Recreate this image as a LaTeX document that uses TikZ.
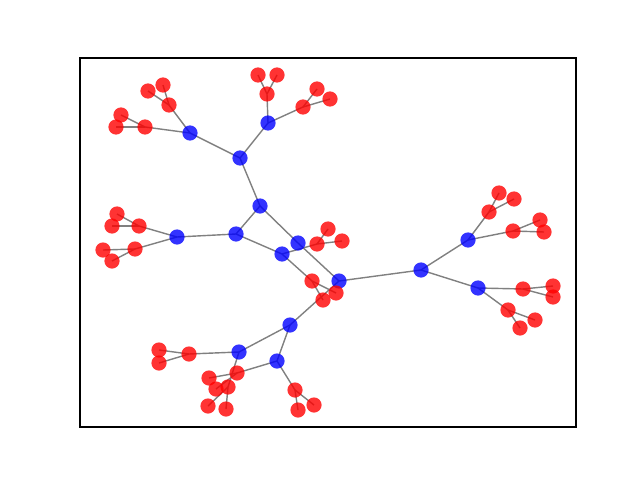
\documentclass[tikz,border=0pt]{standalone}
\pgfdeclarelayer{background}
\pgfsetlayers{background,main}
\definecolor{nred}{rgb}{1,0,0}
\definecolor{nblue}{rgb}{0,0,1}
\tikzset{
  bn/.style={circle,inner sep=0pt,minimum size=0.38cm,fill=nblue,fill opacity=0.8,draw=none},
  rn/.style={circle,inner sep=0pt,minimum size=0.38cm,fill=nred,fill opacity=0.8,draw=none},
  edg/.style={draw=black!50,line width=1pt},
  frame/.style={draw=black,line width=0.8pt}
}
\begin{document}
\begin{tikzpicture}[x=0.025cm,y=-0.025cm]
\useasboundingbox (0,0) rectangle (640,480);
\draw[frame] (80,58) rectangle (576,427);
% blue inner nodes
\node[bn] (n) at (298,243) {};
\node[bn] (n0) at (260,206) {};
\node[bn] (n00) at (240,158) {};
\node[bn] (n000) at (190,133) {};
\node[bn] (n001) at (268,123) {};
\node[bn] (n01) at (236,234) {};
\node[bn] (n010) at (177,237) {};
\node[bn] (n011) at (282,254) {};
\node[bn] (n1) at (339,281) {};
\node[bn] (n10) at (421,270) {};
\node[bn] (n100) at (468,240) {};
\node[bn] (n101) at (478,288) {};
\node[bn] (n11) at (290,325) {};
\node[bn] (n110) at (239,352) {};
\node[bn] (n111) at (277,361) {};
% red nodes
\node[rn] (n0000) at (169,105) {};
\node[rn] (n00000) at (148,91) {};
\node[rn] (n00001) at (163,85) {};
\node[rn] (n0001) at (145,127) {};
\node[rn] (n00010) at (121,115) {};
\node[rn] (n00011) at (116,127) {};
\node[rn] (n0010) at (267,94) {};
\node[rn] (n00100) at (258,75) {};
\node[rn] (n00101) at (277,75) {};
\node[rn] (n0011) at (303,107) {};
\node[rn] (n00110) at (317,89) {};
\node[rn] (n00111) at (330,99) {};
\node[rn] (n0100) at (139,226) {};
\node[rn] (n01000) at (117,214) {};
\node[rn] (n01001) at (112,226) {};
\node[rn] (n0101) at (135,249) {};
\node[rn] (n01010) at (103,250) {};
\node[rn] (n01011) at (112,261) {};
\node[rn] (n0110) at (317,244) {};
\node[rn] (n01100) at (328,229) {};
\node[rn] (n01101) at (342,241) {};
\node[rn] (n0111) at (312,281) {};
\node[rn] (n01110) at (336,293) {};
\node[rn] (n01111) at (323,300) {};
\node[rn] (n1000) at (489,212) {};
\node[rn] (n10000) at (499,193) {};
\node[rn] (n10001) at (514,199) {};
\node[rn] (n1001) at (513,231) {};
\node[rn] (n10010) at (540,220) {};
\node[rn] (n10011) at (544,232) {};
\node[rn] (n1010) at (523,289) {};
\node[rn] (n10100) at (553,286) {};
\node[rn] (n10101) at (553,297) {};
\node[rn] (n1011) at (508,310) {};
\node[rn] (n10110) at (535,320) {};
\node[rn] (n10111) at (520,328) {};
\node[rn] (n1100) at (189,354) {};
\node[rn] (n11000) at (159,350) {};
\node[rn] (n11001) at (159,363) {};
\node[rn] (n1101) at (228,387) {};
\node[rn] (n11010) at (208,406) {};
\node[rn] (n11011) at (226,409) {};
\node[rn] (n1110) at (295,390) {};
\node[rn] (n11100) at (298,410) {};
\node[rn] (n11101) at (314,405) {};
\node[rn] (n1111) at (237,373) {};
\node[rn] (n11110) at (209,378) {};
\node[rn] (n11111) at (216,389) {};
\begin{pgfonlayer}{background}
\foreach \p/\c in {n/n0,n/n1,n0/n00,n0/n01,n1/n10,n1/n11,
  n00/n000,n00/n001,n01/n010,n01/n011,n10/n100,n10/n101,n11/n110,n11/n111,
  n000/n0000,n000/n0001,n001/n0010,n001/n0011,n010/n0100,n010/n0101,n011/n0110,n011/n0111,
  n100/n1000,n100/n1001,n101/n1010,n101/n1011,n110/n1100,n110/n1101,n111/n1110,n111/n1111,
  n0000/n00000,n0000/n00001,n0001/n00010,n0001/n00011,n0010/n00100,n0010/n00101,n0011/n00110,n0011/n00111,
  n0100/n01000,n0100/n01001,n0101/n01010,n0101/n01011,n0110/n01100,n0110/n01101,n0111/n01110,n0111/n01111,
  n1000/n10000,n1000/n10001,n1001/n10010,n1001/n10011,n1010/n10100,n1010/n10101,n1011/n10110,n1011/n10111,
  n1100/n11000,n1100/n11001,n1101/n11010,n1101/n11011,n1110/n11100,n1110/n11101,n1111/n11110,n1111/n11111}
  \draw[edg] (\p.center) -- (\c.center);
\end{pgfonlayer}
\end{tikzpicture}
\end{document}
